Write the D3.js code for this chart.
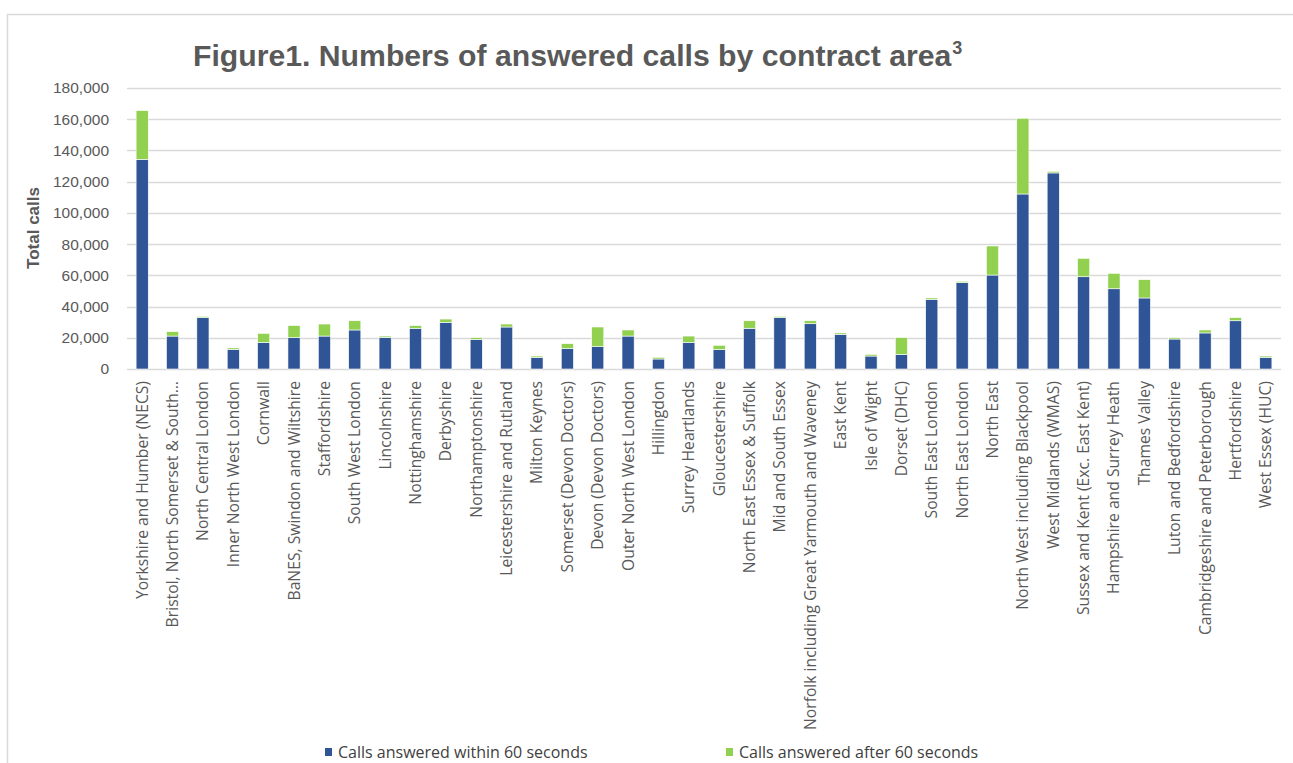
<!DOCTYPE html>
<html>
<head>
<meta charset="utf-8">
<script src="https://cdn.jsdelivr.net/npm/d3@7/dist/d3.min.js"></script>
<style>
  html, body { margin: 0; padding: 0; background: #ffffff; }
  svg { display: block; }
</style>
</head>
<body>
<svg id="chart" width="1293" height="763"></svg>
<script>
const categories = [
  "Yorkshire and Humber (NECS)",
  "Bristol, North Somerset & South…",
  "North Central London",
  "Inner North West London",
  "Cornwall",
  "BaNES, Swindon and Wiltshire",
  "Staffordshire",
  "South West London",
  "Lincolnshire",
  "Nottinghamshire",
  "Derbyshire",
  "Northamptonshire",
  "Leicestershire and Rutland",
  "Milton Keynes",
  "Somerset (Devon Doctors)",
  "Devon (Devon Doctors)",
  "Outer North West London",
  "Hillingdon",
  "Surrey Heartlands",
  "Gloucestershire",
  "North East Essex & Suffolk",
  "Mid and South Essex",
  "Norfolk including Great Yarmouth and Waveney",
  "East Kent",
  "Isle of Wight",
  "Dorset (DHC)",
  "South East London",
  "North East London",
  "North East",
  "North West including Blackpool",
  "West Midlands (WMAS)",
  "Sussex and Kent (Exc. East Kent)",
  "Hampshire and Surrey Heath",
  "Thames Valley",
  "Luton and Bedfordshire",
  "Cambridgeshire and Peterborough",
  "Hertfordshire",
  "West Essex (HUC)"
];
const within60 = [
  134300, 21100, 32900, 12600, 17100, 20100, 21100, 25000, 20300, 26100,
  29900, 19000, 26900, 7500, 13200, 14300, 21100, 6400, 17100, 12400,
  26100, 32900, 29000, 22200, 8300, 9400, 44600, 55300, 60200, 112100,
  125600, 59100, 51400, 45500, 19200, 23100, 30900, 7500
];
const after60 = [
  31200, 2800, 800, 900, 5700, 7700, 7700, 5900, 800, 1700,
  2100, 1100, 1900, 800, 3000, 12600, 3900, 1100, 4000, 2800,
  4800, 800, 1900, 900, 1100, 10700, 900, 900, 18600, 48500,
  1000, 11800, 9900, 11700, 900, 1900, 2000, 800
];
const yTicks = [0, 20000, 40000, 60000, 80000, 100000, 120000, 140000, 160000, 180000];
const seriesNames = ["Calls answered within 60 seconds", "Calls answered after 60 seconds"];
const seriesColors = ["#2F5597", "#92D050"];

const svg = d3.select("#chart");
const plot = { left: 127, right: 1281, top: 88, bottom: 369 };

// outer frame
svg.append("path")
  .attr("d", "M7.5,800 L7.5,14.5 L1300,14.5")
  .attr("fill", "none").attr("stroke", "#d9d9d9").attr("stroke-width", 1.5);

const x = d3.scaleBand().domain(categories).range([plot.left, plot.right]).paddingInner(0.6).paddingOuter(0.3);
const y = d3.scaleLinear().domain([0, 180000]).range([plot.bottom, plot.top]);

// gridlines
svg.append("g").selectAll("line").data(yTicks).join("line")
  .attr("x1", plot.left).attr("x2", plot.right)
  .attr("y1", d => Math.round(y(d)) + 0.5).attr("y2", d => Math.round(y(d)) + 0.5)
  .attr("stroke", "#d9d9d9").attr("stroke-width", 1.4);

// y tick labels
const yAxis = d3.axisLeft(y).tickValues(yTicks).tickFormat(d3.format(",")).tickSize(0).tickPadding(0);
const gy = svg.append("g").attr("transform", `translate(109,0)`).call(yAxis);
gy.select(".domain").remove();
gy.selectAll("text").attr("font-family", "Liberation Sans, Arial, sans-serif")
  .attr("font-size", 15.5).attr("fill", "#595959");

// y-axis title
svg.append("text")
  .attr("transform", "translate(39,228) rotate(-90)")
  .attr("text-anchor", "middle")
  .attr("font-family", "Liberation Sans, Arial, sans-serif")
  .attr("font-size", 17).attr("font-weight", "bold").attr("fill", "#595959")
  .text("Total calls");

// stacked data
const rows = categories.map((c, i) => ({ cat: c, w: within60[i], a: after60[i] }));
const stack = d3.stack().keys(["w", "a"])(rows);

svg.append("g").selectAll("g").data(stack).join("g")
  .attr("fill", (d, i) => seriesColors[i])
  .selectAll("rect").data(d => d).join("rect")
  .attr("x", d => x(d.data.cat))
  .attr("width", x.bandwidth())
  .attr("y", d => y(d[1]))
  .attr("height", d => y(d[0]) - y(d[1]))
  .attr("stroke", "#ffffff").attr("stroke-width", 0.6);

// x labels
const xAxis = d3.axisBottom(x).tickSize(0).tickPadding(0);
const gx = svg.append("g").attr("transform", `translate(0,${plot.bottom})`).call(xAxis);
gx.select(".domain").remove();
gx.selectAll("text")
  .attr("font-family", "Open Sans, sans-serif")
  .attr("font-size", 15.7).attr("fill", "#595959")
  .attr("text-anchor", "end")
  .attr("transform", "rotate(-90)")
  .attr("x", -12).attr("y", 0).attr("dy", "0.35em");

// title
const title = svg.append("text")
  .attr("x", 193).attr("y", 66)
  .attr("font-family", "Liberation Sans, Arial, sans-serif")
  .attr("font-size", 30.2).attr("font-weight", "bold").attr("fill", "#595959");
title.append("tspan").text("Figure1. Numbers of answered calls by contract area");
title.append("tspan").attr("dy", -12).attr("font-size", 18).attr("dx", 1).text("3");

// legend
const legendX = [325, 726];
const lg = svg.append("g").selectAll("g").data(seriesNames).join("g")
  .attr("transform", (d, i) => `translate(${legendX[i]},752)`);
lg.append("rect").attr("x", 0).attr("y", -4).attr("width", 7).attr("height", 8)
  .attr("fill", (d, i) => seriesColors[i]);
lg.append("text").attr("x", 13).attr("y", 0).attr("dy", "0.35em")
  .attr("font-family", "Open Sans, sans-serif").attr("font-size", 16)
  .attr("fill", "#404040").text(d => d);
</script>
</body>
</html>
